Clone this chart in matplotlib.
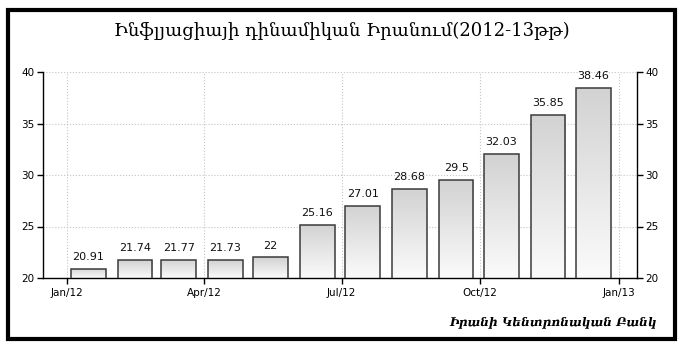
import numpy as np
import pandas as pd
import matplotlib
matplotlib.use("Agg")
import matplotlib.pyplot as plt
import matplotlib.dates as mdates
from matplotlib.patches import Rectangle

# Data: monthly inflation in Iran, 2012
months = ["2012-01", "2012-02", "2012-03", "2012-04", "2012-05", "2012-06",
          "2012-07", "2012-08", "2012-09", "2012-10", "2012-11", "2012-12"]
values = [20.91, 21.74, 21.77, 21.73, 22, 25.16, 27.01, 28.68, 29.5, 32.03, 35.85, 38.46]
value_labels = ["20.91", "21.74", "21.77", "21.73", "22", "25.16", "27.01",
                "28.68", "29.5", "32.03", "35.85", "38.46"]
tick_dates = ["2012-01-01", "2012-04-01", "2012-07-01", "2012-10-01", "2013-01-01"]
tick_labels = ["Jan/12", "Apr/12", "Jul/12", "Oct/12", "Jan/13"]
y_ticks = [20, 25, 30, 35, 40]

title = "Ինֆլյացիայի դինամիկան Իրանում(2012-13թթ)"
source = "Իրանի Կենտրոնական Բանկ"

# bars centred mid-month
x = mdates.date2num(pd.to_datetime(months) + pd.Timedelta(days=14))

fig = plt.figure(figsize=(6.83, 3.48), dpi=100)
ax = fig.add_axes([43 / 683, 1 - 278 / 348, (637 - 43) / 683, (278 - 72) / 348])

bars = ax.bar(x, values, width=23, bottom=0, facecolor="none",
              edgecolor="#3a3a3a", linewidth=1.1, zorder=3)

# grey-to-white gradient inside each bar
cmap = matplotlib.colors.LinearSegmentedColormap.from_list("g", ["#fbfbfb", "#d2d2d2"])
grad = np.linspace(0, 1, 256).reshape(-1, 1)
for b in bars:
    x0, w, h = b.get_x(), b.get_width(), b.get_height()
    im = ax.imshow(grad, cmap=cmap, origin="lower", aspect="auto",
                   extent=[x0, x0 + w, 20, h], zorder=2, interpolation="bilinear")
    im.set_clip_path(b)

for xi, v, lab in zip(x, values, value_labels):
    ax.text(xi, v + 0.65, lab, ha="center", va="bottom", fontsize=8,
            color="#101010", zorder=4)

ax.set_ylim(20, 40)
ax.set_xlim(mdates.date2num(pd.Timestamp("2011-12-16")),
            mdates.date2num(pd.Timestamp("2013-01-13")))
ax.set_yticks(y_ticks)
ax.set_xticks(mdates.date2num(pd.to_datetime(tick_dates)))
ax.set_xticklabels(tick_labels)

ax.grid(True, linestyle=":", color="#c4c4c4", linewidth=0.8, zorder=0)
ax.set_axisbelow(True)
ax.spines["top"].set_visible(False)
for s in ["left", "right", "bottom"]:
    ax.spines[s].set_linewidth(1.0)
ax.tick_params(axis="both", direction="out", length=4, width=1,
               labelsize=7.5, colors="#000000")
ax.tick_params(axis="y", right=True, labelright=True, pad=2)
ax.tick_params(axis="x", pad=3)

fig.text(342 / 683, 1 - 31 / 348, title, ha="center", va="center",
         fontsize=13, family=["DejaVu Serif"], color="#000000")
fig.text(657 / 683, 1 - 322 / 348, source, ha="right", va="center",
         fontsize=8.7, family=["DejaVu Serif"], style="italic",
         fontweight="bold", color="#000000")

# thick black frame around the figure
fig.patches.append(Rectangle((7.5 / 683, 1 - 339 / 348), (675 - 7.5) / 683,
                             (339 - 9.5) / 348, transform=fig.transFigure,
                             fill=False, edgecolor="black", linewidth=3))

fig.savefig("out.png", dpi=100)
